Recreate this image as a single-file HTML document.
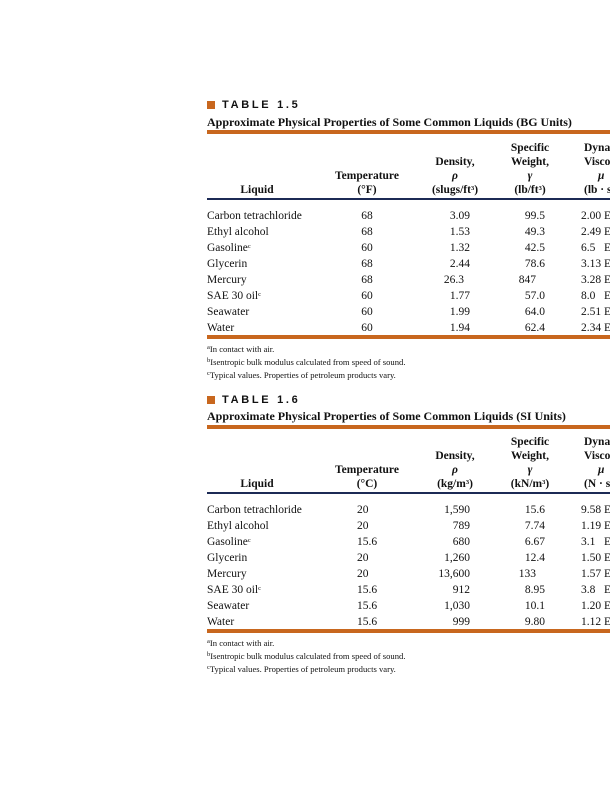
<!DOCTYPE html><html><head><style>
body{margin:0;width:610px;height:800px;background:#fff;position:relative;overflow:hidden;font-family:"Liberation Serif",serif;font-size:11.5px;color:#111}
div{position:absolute;white-space:nowrap;line-height:1}
.sq{width:8px;height:8px;background:#c8671e}
.tt{font-family:"Liberation Sans",sans-serif;font-weight:bold;font-size:11px;letter-spacing:2.7px}
.ti{font-weight:bold;font-size:12px}
.or{left:207px;width:403px;height:4px;background:#c8671e}
.bl{left:207px;width:403px;height:2px;background:#1c2a55}
.h{font-weight:bold;text-align:center;width:90px}
.c{text-align:center;width:60px}
.r{text-align:right;width:60px}
.fn{font-size:8.6px}
sup{font-size:6.5px;vertical-align:3px;line-height:0}
</style></head><body>
<!-- TABLE 1.5 -->
<div class="sq" style="left:207px;top:101px"></div>
<div class="tt" style="left:222px;top:100px">TABLE 1.5</div>
<div class="ti" style="left:207px;top:116px">Approximate Physical Properties of Some Common Liquids (BG Units)</div>
<div class="or" style="top:130px"></div>
<div class="h" style="left:485px;top:143px">Specific</div>
<div class="h" style="left:584px;top:143px;text-align:left">Dyna</div>
<div class="h" style="left:410px;top:157px">Density,</div>
<div class="h" style="left:485px;top:157px">Weight,</div>
<div class="h" style="left:584px;top:157px;text-align:left">Visco</div>
<div class="h" style="left:322px;top:171px">Temperature</div>
<div class="h" style="left:410px;top:171px;font-style:italic">ρ</div>
<div class="h" style="left:485px;top:171px;font-style:italic">γ</div>
<div class="h" style="left:598px;top:171px;text-align:left;font-style:italic">μ</div>
<div class="h" style="left:212px;top:185px">Liquid</div>
<div class="h" style="left:322px;top:185px">(°F)</div>
<div class="h" style="left:410px;top:185px">(slugs/ft<sup>3</sup>)</div>
<div class="h" style="left:485px;top:185px">(lb/ft<sup>3</sup>)</div>
<div class="h" style="left:584px;top:185px;text-align:left">(lb · s</div>
<div class="bl" style="top:198px"></div>
<div style="left:207px;top:208px;line-height:16px">Carbon tetrachloride<br>Ethyl alcohol<br>Gasoline<sup>c</sup><br>Glycerin<br>Mercury<br>SAE 30 oil<sup>c</sup><br>Seawater<br>Water</div>
<div class="c" style="left:337px;top:208px;line-height:16px">68<br>68<br>60<br>68<br>68<br>60<br>60<br>60</div>
<div class="r" style="left:410px;top:208px;line-height:16px">3.09<br>1.53<br>1.32<br>2.44<br><span style="margin-right:6px">26.3</span><br>1.77<br>1.99<br>1.94</div>
<div class="r" style="left:485px;top:208px;line-height:16px">99.5<br>49.3<br>42.5<br>78.6<br><span style="margin-right:9px">847</span><br>57.0<br>64.0<br>62.4</div>
<div style="left:581px;top:208px;line-height:16px">2.00 E<br>2.49 E<br>6.5&nbsp;&nbsp;&nbsp;E<br>3.13 E<br>3.28 E<br>8.0&nbsp;&nbsp;&nbsp;E<br>2.51 E<br>2.34 E</div>
<div class="or" style="top:335px"></div>
<div class="fn" style="left:207px;top:343px;line-height:13px"><sup>a</sup>In contact with air.<br><sup>b</sup>Isentropic bulk modulus calculated from speed of sound.<br><sup>c</sup>Typical values. Properties of petroleum products vary.</div>
<!-- TABLE 1.6 -->
<div class="sq" style="left:207px;top:396px"></div>
<div class="tt" style="left:222px;top:395px">TABLE 1.6</div>
<div class="ti" style="left:207px;top:410px">Approximate Physical Properties of Some Common Liquids (SI Units)</div>
<div class="or" style="top:425px"></div>
<div class="h" style="left:485px;top:437px">Specific</div>
<div class="h" style="left:584px;top:437px;text-align:left">Dyna</div>
<div class="h" style="left:410px;top:451px">Density,</div>
<div class="h" style="left:485px;top:451px">Weight,</div>
<div class="h" style="left:584px;top:451px;text-align:left">Visco</div>
<div class="h" style="left:322px;top:465px">Temperature</div>
<div class="h" style="left:410px;top:465px;font-style:italic">ρ</div>
<div class="h" style="left:485px;top:465px;font-style:italic">γ</div>
<div class="h" style="left:598px;top:465px;text-align:left;font-style:italic">μ</div>
<div class="h" style="left:212px;top:479px">Liquid</div>
<div class="h" style="left:322px;top:479px">(°C)</div>
<div class="h" style="left:410px;top:479px">(kg/m<sup>3</sup>)</div>
<div class="h" style="left:485px;top:479px">(kN/m<sup>3</sup>)</div>
<div class="h" style="left:584px;top:479px;text-align:left">(N · s</div>
<div class="bl" style="top:492px"></div>
<div style="left:207px;top:502px;line-height:16px">Carbon tetrachloride<br>Ethyl alcohol<br>Gasoline<sup>c</sup><br>Glycerin<br>Mercury<br>SAE 30 oil<sup>c</sup><br>Seawater<br>Water</div>
<div style="left:357px;top:502px;line-height:16px">20<br>20<br>15.6<br>20<br>20<br>15.6<br>15.6<br>15.6</div>
<div class="r" style="left:410px;top:502px;line-height:16px">1,590<br>789<br>680<br>1,260<br>13,600<br>912<br>1,030<br>999</div>
<div class="r" style="left:485px;top:502px;line-height:16px">15.6<br>7.74<br>6.67<br>12.4<br><span style="margin-right:9px">133</span><br>8.95<br>10.1<br>9.80</div>
<div style="left:581px;top:502px;line-height:16px">9.58 E<br>1.19 E<br>3.1&nbsp;&nbsp;&nbsp;E<br>1.50 E<br>1.57 E<br>3.8&nbsp;&nbsp;&nbsp;E<br>1.20 E<br>1.12 E</div>
<div class="or" style="top:629px"></div>
<div class="fn" style="left:207px;top:637px;line-height:13px"><sup>a</sup>In contact with air.<br><sup>b</sup>Isentropic bulk modulus calculated from speed of sound.<br><sup>c</sup>Typical values. Properties of petroleum products vary.</div>
</body></html>
